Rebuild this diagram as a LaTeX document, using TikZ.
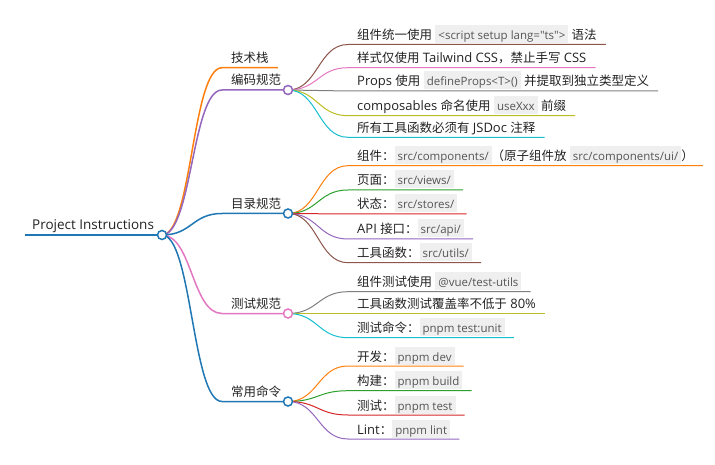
\documentclass[tikz,border=0pt]{standalone}
\usepackage{fontspec}
\setmainfont{Open Sans}
\newfontfamily\zhfont[Scale=0.96]{Noto Sans CJK SC}
\newfontfamily\codefont{Open Sans}
\definecolor{mblue}{HTML}{1F77B4}
\definecolor{morange}{HTML}{FF7F0E}
\definecolor{mgreen}{HTML}{2CA02C}
\definecolor{mred}{HTML}{D62728}
\definecolor{mpurple}{HTML}{9467BD}
\definecolor{mbrown}{HTML}{8C564B}
\definecolor{mpink}{HTML}{E377C2}
\definecolor{mgray}{HTML}{7F7F7F}
\definecolor{molive}{HTML}{BCBD22}
\definecolor{mcyan}{HTML}{17BECF}
\definecolor{textc}{HTML}{222222}
\definecolor{chipbg}{HTML}{EFEFEF}
\definecolor{codetext}{HTML}{555555}
\newcommand\zh[1]{{\zhfont #1}}
\newcommand\chip[1]{{\setlength{\fboxsep}{0pt}\colorbox{chipbg}{\rule[-3.5pt]{0pt}{18pt}\hspace{3pt}{\codefont\fontsize{11.5}{13}\selectfont\color{codetext}#1}\hspace{3pt}}}}
\begin{document}
\begin{tikzpicture}[x=1pt,y=-1pt,
  lbl/.style={anchor=base west, inner xsep=9pt, inner ysep=0pt, text=textc, font=\fontsize{13}{15}\selectfont},
  rootlbl/.style={lbl, inner xsep=7pt, font=\fontsize{13.5}{15}\selectfont},
  l0/.style={line width=2pt},
  l1/.style={line width=1.5pt},
  l2/.style={line width=1pt},
  dot/.style={circle, fill=white, line width=1.5pt, minimum size=9pt, inner sep=0pt}]
\useasboundingbox (0,0) rectangle (715,465);

% ---------- coordinates ----------
\coordinate (r) at (162,235);
\coordinate (a1) at (222,67.7);
\coordinate (a2) at (222,90);
\coordinate (a3) at (222,213.5);
\coordinate (a4) at (222,313.5);
\coordinate (a5) at (222,401.5);
\coordinate (p2) at (288,90);
\coordinate (p3) at (288,213.5);
\coordinate (p4) at (288,313.5);
\coordinate (p5) at (288,401.5);

\coordinate (b1) at (348,44.5);
\coordinate (b2) at (348,67.7);
\coordinate (b3) at (348,91);
\coordinate (b4) at (348,115.7);
\coordinate (b5) at (348,137.3);

\coordinate (c1) at (348,165.7);
\coordinate (c2) at (348,190);
\coordinate (c3) at (348,214);
\coordinate (c4) at (348,239);
\coordinate (c5) at (348,262.7);

\coordinate (d1) at (348,291.7);
\coordinate (d2) at (348,313.5);
\coordinate (d3) at (348,337.7);

\coordinate (e1) at (348,366);
\coordinate (e2) at (348,390.7);
\coordinate (e3) at (348,415);
\coordinate (e4) at (348,439);

% ---------- labels ----------
\node[rootlbl] (root) at ([yshift=5pt]25,235) {Project Instructions};
\node[lbl] (ta1) at ([yshift=5pt]a1) {\zh{技术栈}};
\node[lbl] (ta2) at ([yshift=5pt]a2) {\zh{编码规范}};
\node[lbl] (ta3) at ([yshift=5pt]a3) {\zh{目录规范}};
\node[lbl] (ta4) at ([yshift=5pt]a4) {\zh{测试规范}};
\node[lbl] (ta5) at ([yshift=5pt]a5) {\zh{常用命令}};

\node[lbl] (tb1) at ([yshift=5pt]b1) {\zh{组件统一使用} \chip{<script setup lang="ts">} \zh{语法}};
\node[lbl] (tb2) at ([yshift=5pt]b2) {\zh{样式仅使用} Tailwind CSS\zh{，禁止手写} CSS};
\node[lbl] (tb3) at ([yshift=5pt]b3) {Props \zh{使用} \chip{defineProps<T>()} \zh{并提取到独立类型定义}};
\node[lbl] (tb4) at ([yshift=5pt]b4) {composables \zh{命名使用} \chip{useXxx} \zh{前缀}};
\node[lbl] (tb5) at ([yshift=5pt]b5) {\zh{所有工具函数必须有} JSDoc \zh{注释}};

\node[lbl] (tc1) at ([yshift=5pt]c1) {\zh{组件：}\chip{src/components/}\zh{（原子组件放} \chip{src/components/ui/}\zh{）}};
\node[lbl] (tc2) at ([yshift=5pt]c2) {\zh{页面：}\chip{src/views/}};
\node[lbl] (tc3) at ([yshift=5pt]c3) {\zh{状态：}\chip{src/stores/}};
\node[lbl] (tc4) at ([yshift=5pt]c4) {API \zh{接口：}\chip{src/api/}};
\node[lbl] (tc5) at ([yshift=5pt]c5) {\zh{工具函数：}\chip{src/utils/}};

\node[lbl] (td1) at ([yshift=5pt]d1) {\zh{组件测试使用} \chip{@vue/test-utils}};
\node[lbl] (td2) at ([yshift=5pt]d2) {\zh{工具函数测试覆盖率不低于} 80\%};
\node[lbl] (td3) at ([yshift=5pt]d3) {\zh{测试命令：}\chip{pnpm test:unit}};

\node[lbl] (te1) at ([yshift=5pt]e1) {\zh{开发：}\chip{pnpm dev}};
\node[lbl] (te2) at ([yshift=5pt]e2) {\zh{构建：}\chip{pnpm build}};
\node[lbl] (te3) at ([yshift=5pt]e3) {\zh{测试：}\chip{pnpm test}};
\node[lbl] (te4) at ([yshift=5pt]e4) {Lint\zh{：}\chip{pnpm lint}};

% ---------- level-2 links ----------
\draw[l2, mbrown]  (p2) .. controls +(30,0) and +(-30,0) .. (b1) -- (tb1.east |- b1);
\draw[l2, mpink]   (p2) .. controls +(30,0) and +(-30,0) .. (b2) -- (tb2.east |- b2);
\draw[l2, mgray]   (p2) .. controls +(30,0) and +(-30,0) .. (b3) -- (tb3.east |- b3);
\draw[l2, molive]  (p2) .. controls +(30,0) and +(-30,0) .. (b4) -- (tb4.east |- b4);
\draw[l2, mcyan]   (p2) .. controls +(30,0) and +(-30,0) .. (b5) -- (tb5.east |- b5);

\draw[l2, morange] (p3) .. controls +(30,0) and +(-30,0) .. (c1) -- (tc1.east |- c1);
\draw[l2, mgreen]  (p3) .. controls +(30,0) and +(-30,0) .. (c2) -- (tc2.east |- c2);
\draw[l2, mred]    (p3) .. controls +(30,0) and +(-30,0) .. (c3) -- (tc3.east |- c3);
\draw[l2, mpurple] (p3) .. controls +(30,0) and +(-30,0) .. (c4) -- (tc4.east |- c4);
\draw[l2, mbrown]  (p3) .. controls +(30,0) and +(-30,0) .. (c5) -- (tc5.east |- c5);

\draw[l2, mgray]   (p4) .. controls +(30,0) and +(-30,0) .. (d1) -- (td1.east |- d1);
\draw[l2, molive]  (p4) .. controls +(30,0) and +(-30,0) .. (d2) -- (td2.east |- d2);
\draw[l2, mcyan]   (p4) .. controls +(30,0) and +(-30,0) .. (d3) -- (td3.east |- d3);

\draw[l2, morange] (p5) .. controls +(30,0) and +(-30,0) .. (e1) -- (te1.east |- e1);
\draw[l2, mgreen]  (p5) .. controls +(30,0) and +(-30,0) .. (e2) -- (te2.east |- e2);
\draw[l2, mred]    (p5) .. controls +(30,0) and +(-30,0) .. (e3) -- (te3.east |- e3);
\draw[l2, mpurple] (p5) .. controls +(30,0) and +(-30,0) .. (e4) -- (te4.east |- e4);

% ---------- level-1 links ----------
\draw[l1, morange] (r) .. controls +(30,0) and +(-30,0) .. (a1) -- (ta1.east |- a1);
\draw[l1, mpurple] (r) .. controls +(30,0) and +(-30,0) .. (a2) -- (p2);
\draw[l1, mblue]   (r) .. controls +(30,0) and +(-30,0) .. (a3) -- (p3);
\draw[l1, mpink]   (r) .. controls +(30,0) and +(-30,0) .. (a4) -- (p4);
\draw[l1, mblue]   (r) .. controls +(30,0) and +(-30,0) .. (a5) -- (p5);

% ---------- root line ----------
\draw[l0, mblue] (root.west |- r) -- (r);

% ---------- circles ----------
\node[dot, draw=mblue] at (r) {};
\node[dot, draw=mpurple] at (p2) {};
\node[dot, draw=mblue] at (p3) {};
\node[dot, draw=mpink] at (p4) {};
\node[dot, draw=mblue] at (p5) {};
\end{tikzpicture}
\end{document}
